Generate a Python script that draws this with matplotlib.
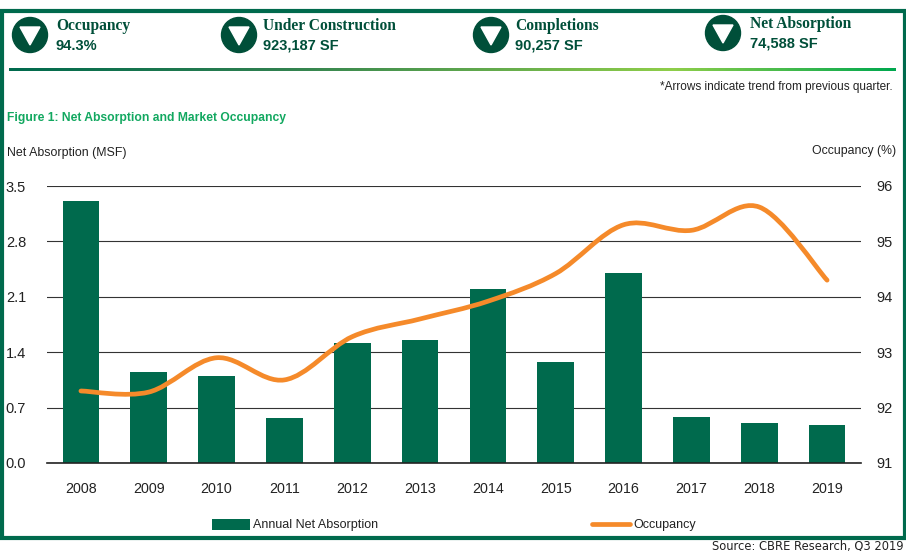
"""Net absorption and market occupancy panel."""
import matplotlib
matplotlib.use('Agg')
import matplotlib.pyplot as plt
from matplotlib.colors import LinearSegmentedColormap
from matplotlib.patches import Circle, Polygon, Rectangle, PathPatch
from matplotlib.path import Path
import numpy as np

SANS = 'Liberation Sans'
SERIF = 'Liberation Serif'

years = ['2008', '2009', '2010', '2011', '2012', '2013', '2014', '2015', '2016', '2017', '2018', '2019']
absorption = [3.31, 1.15, 1.1, 0.57, 1.52, 1.56, 2.2, 1.27, 2.4, 0.58, 0.5, 0.48]
occupancy = [92.3, 92.28, 92.9, 92.5, 93.28, 93.6, 93.92, 94.42, 95.3, 95.2, 95.62, 94.3]
left_ticks = [0.0, 0.7, 1.4, 2.1, 2.8, 3.5]
right_ticks = [91, 92, 93, 94, 95, 96]

stat_labels = ['Occupancy', 'Under Construction', 'Completions', 'Net Absorption']
stat_values = ['94.3%', '923,187 SF', '90,257 SF', '74,588 SF']

GREEN = '#006a4d'
DARK = '#004f39'
ORANGE = '#f58a2a'
INK = '#222222'
W, H = 906, 551

fig = plt.figure(figsize=(W / 100, H / 100), dpi=100, facecolor='white')

# overlay in pixel coordinates for the frame and header
bg = fig.add_axes([0, 0, 1, 1])
bg.axis('off')
bg.add_patch(Rectangle((1.5, 11), W - 3, 527, fill=False, edgecolor=GREEN, linewidth=3))

icon_x = [30, 239, 491, 723]
icon_y = [35, 35, 35, 33]
text_x = [56, 263, 515, 750]
for lab, val, ix, iy, tx in zip(stat_labels, stat_values, icon_x, icon_y, text_x):
    bg.add_patch(Circle((ix, iy), 17.5, color=DARK))
    bg.add_patch(Polygon([(ix - 10, iy - 8), (ix + 10, iy - 8), (ix, iy + 10)], color='white'))
    bg.text(tx, iy - 9, lab, family=SERIF, fontweight='bold', fontsize=11.2,
            color=DARK, va='center', ha='left')
    bg.text(tx, iy + 11, val, family=SANS, fontweight='bold', fontsize=10.5,
            color=DARK, va='center', ha='left')

# header rule, dark green to light green
grad = LinearSegmentedColormap.from_list(
    'rule', [(0, '#006a4d'), (0.3, '#2f8050'), (0.75, '#8fce4a'), (1, '#00a84f')])
bg.imshow(np.linspace(0, 1, 400).reshape(1, -1), cmap=grad, extent=(9, 896, 71, 68), aspect='auto')
bg.set_xlim(0, W)
bg.set_ylim(H, 0)

bg.text(893, 87, '*Arrows indicate trend from previous quarter.', family=SANS, fontsize=8.5,
        color=INK, ha='right', va='center')
bg.text(7, 118, 'Figure 1: Net Absorption and Market Occupancy', family=SANS, fontweight='bold',
        fontsize=8.7, color='#12a860', ha='left', va='center')
bg.text(7, 153, 'Net Absorption (MSF)', family=SANS, fontsize=8.9, color=INK, ha='left', va='center')
bg.text(896, 151, 'Occupancy (%)', family=SANS, fontsize=8.8, color=INK, ha='right', va='center')
bg.text(904, 546, 'Source: CBRE Research, Q3 2019', family='DejaVu Sans', fontsize=8.3,
        color=INK, ha='right', va='center')

# chart
ax = fig.add_axes([47 / W, 1 - 463 / H, (861 - 47) / W, (463 - 186) / H])
ax.patch.set_alpha(0)
x = np.arange(len(years))
bars = ax.bar(x, absorption, width=0.54, color=GREEN, zorder=3, label='Annual Net Absorption')
ax.set_xlim(-0.5, 11.5)
ax.set_ylim(0, 3.5)
ax.set_yticks(left_ticks)
ax.set_yticklabels([f'{t:.1f}' for t in left_ticks], family=SANS, fontsize=10.5, color=INK)
ax.set_xticks(x)
ax.set_xticklabels(years, family=SANS, fontsize=10.3, color=INK)
ax.tick_params(length=0)
ax.tick_params(axis='x', pad=14)
ax.tick_params(axis='y', pad=15)
ax.grid(True, axis='y', color='#333333', linewidth=0.8, zorder=1)
for side in ['top', 'left', 'right']:
    ax.spines[side].set_visible(False)
ax.spines['bottom'].set_color(INK)
ax.spines['bottom'].set_linewidth(1.2)
ax.spines['bottom'].set_zorder(4)

ax2 = ax.twinx()
ax2.set_ylim(91, 96)
ax2.set_yticks(right_ticks)
ax2.set_yticklabels([str(t) for t in right_ticks], family=SANS, fontsize=10.5, color=INK)
ax2.tick_params(length=0, pad=11)
for side in ax2.spines:
    ax2.spines[side].set_visible(False)

# smoothed line like the spreadsheet one, bezier handles from neighbouring points
y = np.array(occupancy)
verts = [(x[0], y[0])]
codes = [Path.MOVETO]
for i in range(len(x) - 1):
    p0 = i - 1 if i > 0 else i
    p3 = i + 2 if i + 2 < len(x) else i + 1
    verts.append((x[i] + (x[i + 1] - x[p0]) / 6, y[i] + (y[i + 1] - y[p0]) / 6))
    verts.append((x[i + 1] - (x[p3] - x[i]) / 6, y[i + 1] - (y[p3] - y[i]) / 6))
    verts.append((x[i + 1], y[i + 1]))
    codes += [Path.CURVE4] * 3
ax2.add_patch(PathPatch(Path(verts, codes), fill=False, edgecolor=ORANGE, linewidth=3.4,
                        capstyle='round', zorder=5))
line, = ax2.plot([], [], color=ORANGE, linewidth=3.4, solid_capstyle='round', label='Occupancy')

leg = fig.legend(handles=[bars, line], loc='center left', bbox_to_anchor=(212 / W, 1 - 525 / H),
                 ncol=2, frameon=False, columnspacing=17.1, handlelength=3.0, handleheight=1.0,
                 handletextpad=0.3, borderpad=0, borderaxespad=0, prop={'family': SANS, 'size': 9})
for t in leg.get_texts():
    t.set_color(INK)

fig.savefig('out.png', dpi=100)
